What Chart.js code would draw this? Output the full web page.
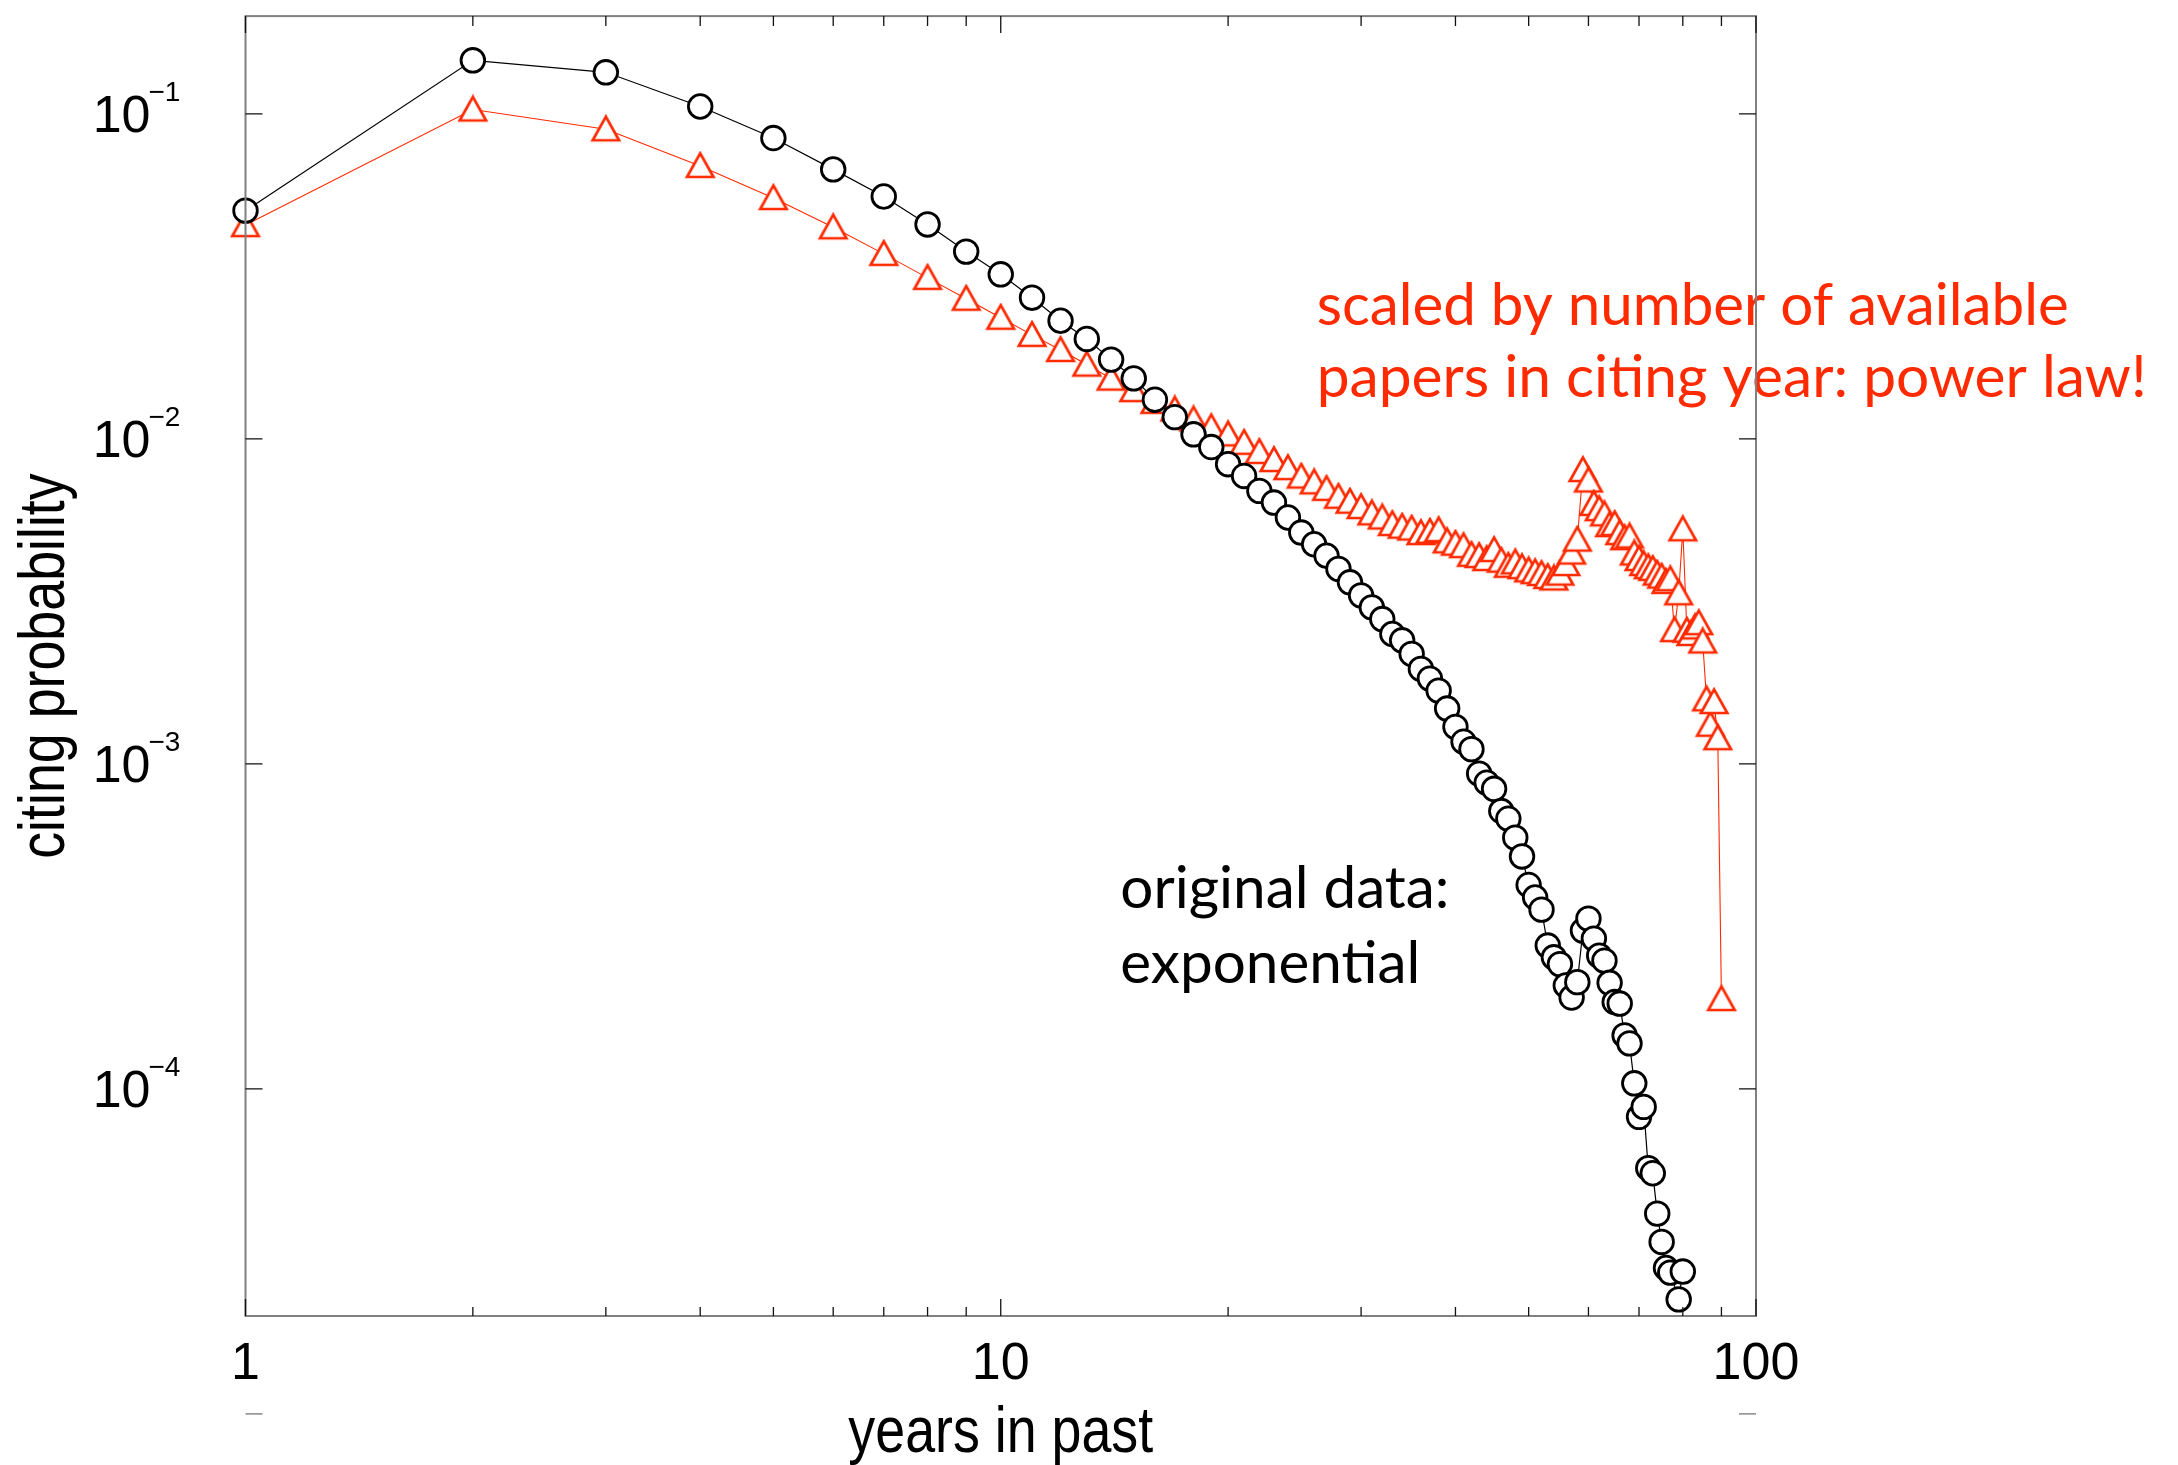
<!DOCTYPE html>
<html>
<head>
<meta charset="utf-8">
<script src="https://cdn.jsdelivr.net/npm/chart.js@4.4.1/dist/chart.umd.min.js"></script>
<style>
  html, body { margin: 0; padding: 0; background: #ffffff; }
  canvas { display: block; }
</style>
</head>
<body>
<canvas id="c" width="2178" height="1465"></canvas>
<script>
// ---------------- DATA ----------------
const originalYears = [1,2,3,4,5,6,7,8,9,10,
  11,12,13,14,15,16,17,18,19,20,
  21,22,23,24,25,26,27,28,29,30,
  31,32,33,34,35,36,37,38,39,40,
  41,42,43,44,45,46,47,48,49,50,
  51,52,53,54,55,56,57,58,59,60,
  61,62,63,64,65,66,67,68,69,70,
  71,72,73,74,75,76,77,79,80];
const originalValues = [0.0504,0.1462,0.1343,0.1054,0.0843,0.0675,0.0557,0.0457,0.0377,0.0321,
  0.0272,0.0231,0.0203,0.01754,0.01535,0.0132,0.01167,0.01033,0.00944,0.00836,
  0.00769,0.00692,0.00637,0.00573,0.00515,0.00474,0.00437,0.00398,0.00362,0.0033,
  0.00303,0.00279,0.00251,0.0024,0.00218,0.00196,0.00183,0.00168,0.00148,0.0013,
  0.00117,0.00111,0.000933,0.000875,0.000838,0.000716,0.000678,0.000593,0.000519,0.000424,
  0.000388,0.000356,0.000276,0.000254,0.000242,0.000208,0.000191,0.000213,0.000307,0.000334,
  0.00029,0.000257,0.000248,0.000212,0.000185,0.000183,0.000146,0.000138,0.000104,0.000082,
  0.000088,0.000057,0.000055,0.0000413,0.0000338,0.0000281,0.0000272,0.0000225,0.0000274];

const scaledYears = [1,2,3,4,5,6,7,8,9,10,
  11,12,13,14,15,16,17,18,19,20,
  21,22,23,24,25,26,27,28,29,30,
  31,32,33,34,35,36,37,38,39,40,
  41,42,43,44,45,46,47,48,49,50,
  51,52,53,54,55,56,57,58,59,60,
  61,62,63,64,65,66,67,68,69,70,
  71,72,73,74,75,76,77,78,79,80,
  81,82,83,84,85,86,87,88,89,90];
const scaledValues = [0.0455,0.1032,0.0897,0.0692,0.0551,0.0448,0.0371,0.0313,0.0270,0.0236,
  0.0209,0.01878,0.01693,0.01533,0.01413,0.0130,0.01232,0.01148,0.01087,0.01033,
  0.00973,0.00912,0.00861,0.00813,0.00766,0.00735,0.00702,0.00664,0.00641,0.00617,
  0.0059,0.00573,0.00547,0.00537,0.0053,0.00513,0.00518,0.00524,0.00484,0.00476,
  0.00468,0.0044,0.00436,0.00427,0.00455,0.00422,0.00407,0.00417,0.00403,0.00394,
  0.00389,0.00384,0.00376,0.00372,0.00385,0.00412,0.00447,0.0049,0.00802,0.00745,
  0.00631,0.00608,0.00586,0.00543,0.00547,0.00513,0.00495,0.00501,0.00444,0.00427,
  0.00412,0.00403,0.00398,0.00385,0.00377,0.00363,0.0037,0.00258,0.00335,0.00527,
  0.00257,0.00251,0.00263,0.00271,0.00238,0.00158,0.00132,0.00155,0.0012,0.000189];

const xMajorTicks = [1, 10, 100];
const xTickLabels = ['1', '10', '100'];
const xMinorTicks = [2,3,4,5,6,7,8,9,20,30,40,50,60,70,80,90];
const yMajorTicks = [0.1, 0.01, 0.001, 0.0001];
const yTickExponents = ['\u22121', '\u22122', '\u22123', '\u22124'];
const yStrayTicks = [0.00001];

const xTitle = 'years in past';
const yTitle = 'citing probability';
const redNoteLines = ['scaled by number of available', 'papers in citing year: power law!'];
const blackNoteLines = ['original data:', 'exponential'];

// ---------------- STYLE ----------------
const RED = '#ff2a00';
const style = {
  frameColor: '#808080',
  tickFont: '52px "Liberation Sans", Arial, sans-serif',
  supFont: '28px "Liberation Sans", Arial, sans-serif',
  titleFont: '64px "Liberation Sans", Arial, sans-serif',
  titleScaleX: 0.84,
  noteFont: '59px Lato, "Open Sans", sans-serif',
  majorLen: 17, minorLen: 10
};
// note anchors in data coordinates (x value at left edge, y value at baseline), and target widths
const redNote = { x: 26.2, y: [0.02244, 0.01343], widths: [752, 830] };
const blackNote = { x: 14.4, y: [0.000360, 0.000211], widths: [329, 300] };

// triangle marker image (centred on its bounding box)
function makeTriangle() {
  const c = document.createElement('canvas');
  c.width = 32; c.height = 30;
  const g = c.getContext('2d');
  g.beginPath();
  g.moveTo(16, 2.4);
  g.lineTo(29.2, 26.0);
  g.lineTo(2.8, 26.0);
  g.closePath();
  g.fillStyle = '#ffffff';
  g.fill();
  g.lineWidth = 2.7;
  g.lineJoin = 'miter';
  g.strokeStyle = RED;
  g.stroke();
  return c;
}
const triangleImg = makeTriangle();

function drawFitted(ctx, text, x, y, width, font, color) {
  ctx.save();
  ctx.font = font;
  ctx.fillStyle = color;
  ctx.textAlign = 'left';
  ctx.textBaseline = 'alphabetic';
  const w = ctx.measureText(text).width;
  ctx.translate(x, y);
  ctx.scale(width / w, 1);
  ctx.fillText(text, 0, 0);
  ctx.restore();
}

const framePlugin = {
  id: 'framePlugin',
  afterDraw(chart) {
    const { ctx, chartArea: a, scales } = chart;
    const xs = scales.x, ys = scales.y;
    ctx.save();

    // annotations
    redNoteLines.forEach((t, i) => drawFitted(ctx, t, xs.getPixelForValue(redNote.x), ys.getPixelForValue(redNote.y[i]), redNote.widths[i], style.noteFont, RED));
    blackNoteLines.forEach((t, i) => drawFitted(ctx, t, xs.getPixelForValue(blackNote.x), ys.getPixelForValue(blackNote.y[i]), blackNote.widths[i], style.noteFont, '#000'));

    // frame
    ctx.strokeStyle = style.frameColor;
    ctx.lineWidth = 2;
    ctx.strokeRect(a.left, a.top, a.right - a.left, a.bottom - a.top);

    // ticks
    ctx.strokeStyle = '#111';
    ctx.lineWidth = 1.3;
    ctx.beginPath();
    xMajorTicks.forEach(v => {
      const px = xs.getPixelForValue(v);
      ctx.moveTo(px, a.top); ctx.lineTo(px, a.top + style.majorLen);
      ctx.moveTo(px, a.bottom); ctx.lineTo(px, a.bottom - style.majorLen);
    });
    xMinorTicks.forEach(v => {
      const px = xs.getPixelForValue(v);
      ctx.moveTo(px, a.top); ctx.lineTo(px, a.top + style.minorLen);
      ctx.moveTo(px, a.bottom); ctx.lineTo(px, a.bottom - style.minorLen + 1);
    });
    yMajorTicks.forEach(v => {
      const py = ys.getPixelForValue(v);
      ctx.moveTo(a.left, py); ctx.lineTo(a.left + style.majorLen, py);
      ctx.moveTo(a.right, py); ctx.lineTo(a.right - style.majorLen, py);
    });
    ctx.stroke();

    // stray ticks below the plot (outside the frame)
    ctx.strokeStyle = '#999';
    ctx.lineWidth = 1.6;
    ctx.beginPath();
    yStrayTicks.forEach(v => {
      const py = ys.getPixelForValue(v);
      ctx.moveTo(a.left, py); ctx.lineTo(a.left + style.majorLen, py);
      ctx.moveTo(a.right, py); ctx.lineTo(a.right - style.majorLen, py);
    });
    ctx.stroke();

    // y tick labels 10^-n
    ctx.fillStyle = '#000';
    yMajorTicks.forEach((v, i) => {
      const py = ys.getPixelForValue(v);
      ctx.font = style.tickFont;
      ctx.textAlign = 'right';
      ctx.textBaseline = 'alphabetic';
      ctx.fillText('10', a.left - 95, py + 18);
      ctx.font = style.supFont;
      ctx.textAlign = 'left';
      ctx.fillText(yTickExponents[i], a.left - 97, py - 13);
    });

    // x tick labels
    ctx.font = style.tickFont;
    ctx.textAlign = 'center';
    ctx.textBaseline = 'alphabetic';
    xMajorTicks.forEach((v, i) => {
      ctx.fillText(xTickLabels[i], xs.getPixelForValue(v), a.bottom + 63);
    });

    // axis titles
    ctx.font = style.titleFont;
    ctx.save();
    ctx.translate((a.left + a.right) / 2, a.bottom + 136);
    ctx.scale(style.titleScaleX, 1);
    ctx.textAlign = 'center';
    ctx.fillText(xTitle, 0, 0);
    ctx.restore();

    ctx.save();
    ctx.translate(64, (a.top + a.bottom) / 2);
    ctx.rotate(-Math.PI / 2);
    ctx.scale(style.titleScaleX, 1);
    ctx.textAlign = 'center';
    ctx.fillText(yTitle, 0, 0);
    ctx.restore();

    ctx.restore();
  }
};

const ctx = document.getElementById('c').getContext('2d');
new Chart(ctx, {
  type: 'line',
  data: {
    datasets: [
      {
        label: 'original data',
        data: originalYears.map((yr, i) => ({ x: yr, y: originalValues[i] })),
        borderColor: '#000000',
        borderWidth: 1.2,
        pointStyle: 'circle',
        pointRadius: 11.8,
        pointBorderWidth: 2.8,
        pointBackgroundColor: '#ffffff',
        pointBorderColor: '#000000',
        tension: 0,
        clip: false
      },
      {
        label: 'scaled by number of available papers',
        data: scaledYears.map((yr, i) => ({ x: yr, y: scaledValues[i] })),
        borderColor: RED,
        borderWidth: 1.1,
        pointStyle: triangleImg,
        pointRadius: 15,
        pointBackgroundColor: '#ffffff',
        pointBorderColor: RED,
        tension: 0,
        clip: false
      }
    ]
  },
  options: {
    responsive: false,
    animation: false,
    devicePixelRatio: 1,
    events: [],
    layout: { padding: { left: 0, top: 9, right: 422, bottom: 0 } },
    plugins: { legend: { display: false }, tooltip: { enabled: false }, title: { display: false } },
    scales: {
      x: {
        type: 'logarithmic', min: 1, max: 100,
        grid: { display: false }, border: { display: false },
        ticks: { display: false },
        afterFit(s) { s.height = 149; }
      },
      y: {
        type: 'logarithmic', min: 0.00002, max: 0.2,
        grid: { display: false }, border: { display: false },
        ticks: { display: false },
        afterFit(s) { s.width = 245.5; }
      }
    }
  },
  plugins: [framePlugin]
});
</script>
</body>
</html>
